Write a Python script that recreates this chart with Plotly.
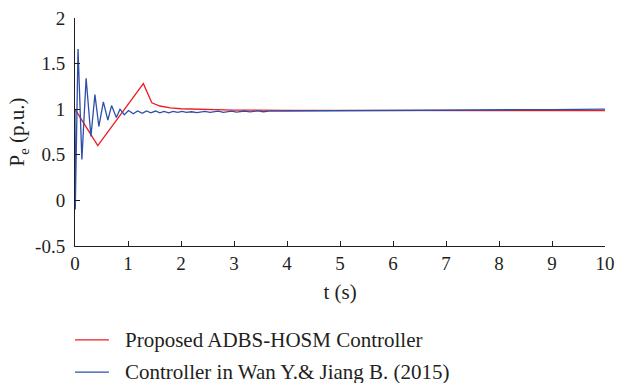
import plotly.graph_objects as go

# Proposed ADBS-HOSM Controller
red_t = [0, 0.43, 1.29, 1.45, 1.6, 1.8, 2.0, 2.5, 3.0, 4.0, 5.0, 6.0, 8.0, 10.0]
red_p = [1.0, 0.60, 1.28, 1.07, 1.035, 1.015, 1.005, 0.995, 0.99, 0.988, 0.986, 0.985, 0.985, 0.985]

# Controller in Wan Y.& Jiang B. (2015)
blue_t = [0, 0.005, 0.057, 0.13, 0.21, 0.30, 0.376, 0.45, 0.535, 0.62, 0.69, 0.78, 0.85, 0.93,
          1.01, 1.10, 1.18, 1.27, 1.35, 1.43, 1.52, 1.60, 1.68, 1.77, 1.85, 1.94, 2.02, 2.10,
          2.20, 2.30, 2.45, 2.55, 2.70, 2.80, 2.95, 3.05, 3.20, 3.30, 3.45, 3.55, 3.70, 3.80,
          4.0, 5.0, 6.0, 7.0, 8.0, 8.5, 9.0, 9.5, 10.0]
blue_p = [1.0, -0.1, 1.66, 0.45, 1.34, 0.70, 1.16, 0.81, 1.08, 0.88, 1.04, 0.91, 1.00, 0.94,
          0.985, 0.95, 0.98, 0.955, 0.98, 0.96, 0.98, 0.96, 0.975, 0.96, 0.975, 0.965, 0.975, 0.965,
          0.972, 0.962, 0.975, 0.965, 0.978, 0.966, 0.978, 0.968, 0.98, 0.97, 0.982, 0.972, 0.982, 0.978,
          0.98, 0.985, 0.988, 0.99, 0.992, 0.995, 0.995, 0.995, 1.0]

series_names = ["Proposed ADBS-HOSM Controller", "Controller in Wan Y.& Jiang B. (2015)"]
series_colors = ["#ee1c25", "#2e4fa8"]

x_ticks = [0, 1, 2, 3, 4, 5, 6, 7, 8, 9, 10]
y_ticks = [-0.5, 0, 0.5, 1, 1.5, 2]
y_tick_text = ["-0.5", "0", "0.5", "1", "1.5", "2"]

FONT = "Liberation Serif, Times New Roman, serif"
TXT = "#231f20"

fig = go.Figure()
fig.add_trace(go.Scatter(x=red_t, y=red_p, mode="lines", name=series_names[0],
                         line=dict(color=series_colors[0], width=1.3)))
fig.add_trace(go.Scatter(x=blue_t, y=blue_p, mode="lines", name=series_names[1],
                         line=dict(color=series_colors[1], width=1.3)))

# Manual legend below the axes (paper coordinates)
legend_rows_y = [-0.412, -0.553]
for name, color, ly in zip(series_names, series_colors, legend_rows_y):
    fig.add_shape(type="line", xref="paper", yref="paper", x0=0.0, x1=0.064, y0=ly, y1=ly,
                  line=dict(color=color, width=1.3))
    fig.add_annotation(xref="paper", yref="paper", x=0.09, y=ly, xanchor="left", yanchor="middle",
                       text=name, showarrow=False, font=dict(family=FONT, size=21, color=TXT))

fig.update_layout(
    width=619, height=383,
    margin=dict(l=75, r=14, t=18, b=137, autoexpand=False),
    paper_bgcolor="white", plot_bgcolor="white",
    font=dict(family=FONT, size=19, color=TXT),
    showlegend=False,
    xaxis=dict(range=[0, 10], tickvals=x_ticks, ticks="inside", ticklen=5, tickcolor=TXT,
               showline=True, linecolor=TXT, linewidth=1, showgrid=False, zeroline=False,
               automargin=False, ticklabeloverflow="allow",
               title=dict(text="t (s)", standoff=11, font=dict(size=21)),
               tickfont=dict(size=19)),
    yaxis=dict(range=[-0.5, 2], tickvals=y_ticks, ticktext=y_tick_text, ticks="inside",
               ticklen=5, tickcolor=TXT, showline=True, linecolor=TXT, linewidth=1,
               showgrid=False, zeroline=False, automargin=False, ticklabeloverflow="allow",
               ticklabelstandoff=5,
               title=dict(text="P<sub>e</sub> (p.u.)", standoff=4, font=dict(size=21)),
               tickfont=dict(size=19)),
)

fig.write_html("out.html", config={"displayModeBar": False},
               post_script="document.body.style.margin='0';")
